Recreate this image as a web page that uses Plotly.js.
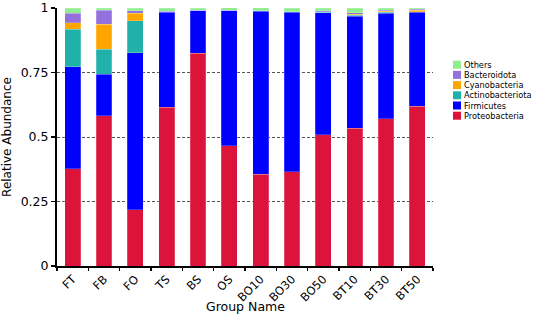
<!DOCTYPE html>
<html>
<head>
<meta charset="utf-8">
<script src="https://cdn.plot.ly/plotly-3.0.1.min.js"></script>
<style>
html,body{margin:0;padding:0;background:#fff;}
#chart{width:536px;height:314px;}
</style>
</head>
<body>
<div id="chart"></div>
<script>
var categories = ['FT','FB','FO','TS','BS','OS','BO10','BO30','BO50','BT10','BT30','BT50'];
var proteobacteria   = [0.377,0.583,0.219,0.615,0.824,0.466,0.355,0.366,0.508,0.534,0.571,0.620];
var firmicutes       = [0.396,0.160,0.607,0.369,0.165,0.523,0.633,0.618,0.474,0.435,0.409,0.364];
var actinobacteriota = [0.144,0.098,0.124,0.002,0.001,0.0005,0.0005,0.001,0.002,0.003,0.004,0.001];
var cyanobacteria    = [0.025,0.097,0.030,0.000,0.000,0.000,0.000,0.000,0.002,0.003,0.004,0.007];
var bacteroidota     = [0.037,0.054,0.009,0.001,0.001,0.001,0.001,0.001,0.003,0.006,0.004,0.003];
var others           = [0.021,0.008,0.011,0.013,0.009,0.010,0.011,0.014,0.011,0.019,0.008,0.005];

var seriesNames  = ['Proteobacteria','Firmicutes','Actinobacteriota','Cyanobacteria','Bacteroidota','Others'];
var seriesValues = [proteobacteria, firmicutes, actinobacteriota, cyanobacteria, bacteroidota, others];
var seriesColors = ['#DC143C','#0000FF','#20B2AA','#FFA500','#9370DB','#90EE90'];

var traces = seriesNames.map(function(n,i){
  return {
    type:'bar', name:n, x:categories, y:seriesValues[i],
    marker:{color:seriesColors[i], line:{width:0.6, color:'rgba(255,255,255,0.35)'}},
    width:0.51, showlegend:false
  };
});

// plot area in pixels
var L=57, R=103, T=8, B=48, W=536, H=314;
var pw=W-L-R, ph=H-T-B;
function px(x){return (x-L)/pw;}
function py(y){return (H-B-y)/ph;}

var shapes=[], annotations=[];
var legendOrder = seriesNames.slice().reverse();
var legendColors = seriesColors.slice().reverse();
for (var i=0;i<legendOrder.length;i++){
  var cy = 64.7 + i*10.2;
  shapes.push({type:'rect', xref:'paper', yref:'paper',
    x0:px(453), x1:px(461), y0:py(cy+4), y1:py(cy-4),
    fillcolor:legendColors[i], line:{width:0}});
  annotations.push({xref:'paper', yref:'paper', x:px(461.5), y:py(cy),
    xanchor:'left', yanchor:'middle', showarrow:false, text:legendOrder[i],
    font:{family:'DejaVu Sans', size:8.2, color:'#000'}});
}
// x axis title
annotations.push({xref:'paper', yref:'paper', x:px(245), y:py(306),
  xanchor:'center', yanchor:'middle', showarrow:false, text:'Group Name',
  font:{family:'DejaVu Sans', size:12.5, color:'#000'}});

var layout = {
  width:W, height:H,
  margin:{l:L, r:R, t:T, b:B, pad:0},
  paper_bgcolor:'#fff', plot_bgcolor:'#fff',
  barmode:'stack',
  showlegend:false,
  font:{family:'DejaVu Sans', color:'#000'},
  xaxis:{
    type:'category', range:[-0.5,11.5],
    showline:true, linecolor:'#000', linewidth:2,
    ticks:'outside', ticklen:3, tickwidth:1.5, tickcolor:'#000',
    tickson:'boundaries',
    tickangle:-45, tickfont:{size:11.5, family:'DejaVu Sans'},
    showgrid:false, zeroline:false,
    automargin:false
  },
  yaxis:{
    range:[0,1], tickvals:[0,0.25,0.5,0.75,1], ticktext:['0','0.25','0.5','0.75','1'],
    showline:true, linecolor:'#000', linewidth:2,
    ticks:'outside', ticklen:4, tickwidth:1.5, tickcolor:'#000',
    tickfont:{size:12.5, family:'DejaVu Sans'},
    showgrid:true, gridcolor:'#555', gridwidth:1, griddash:'3px,2px',
    zeroline:false,
    title:{text:'Relative Abundance', font:{size:12, family:'DejaVu Sans'}, standoff:8},
    automargin:false
  },
  shapes:shapes,
  annotations:annotations
};

Plotly.newPlot('chart', traces, layout, {displayModeBar:false, staticPlot:true});
</script>
</body>
</html>
